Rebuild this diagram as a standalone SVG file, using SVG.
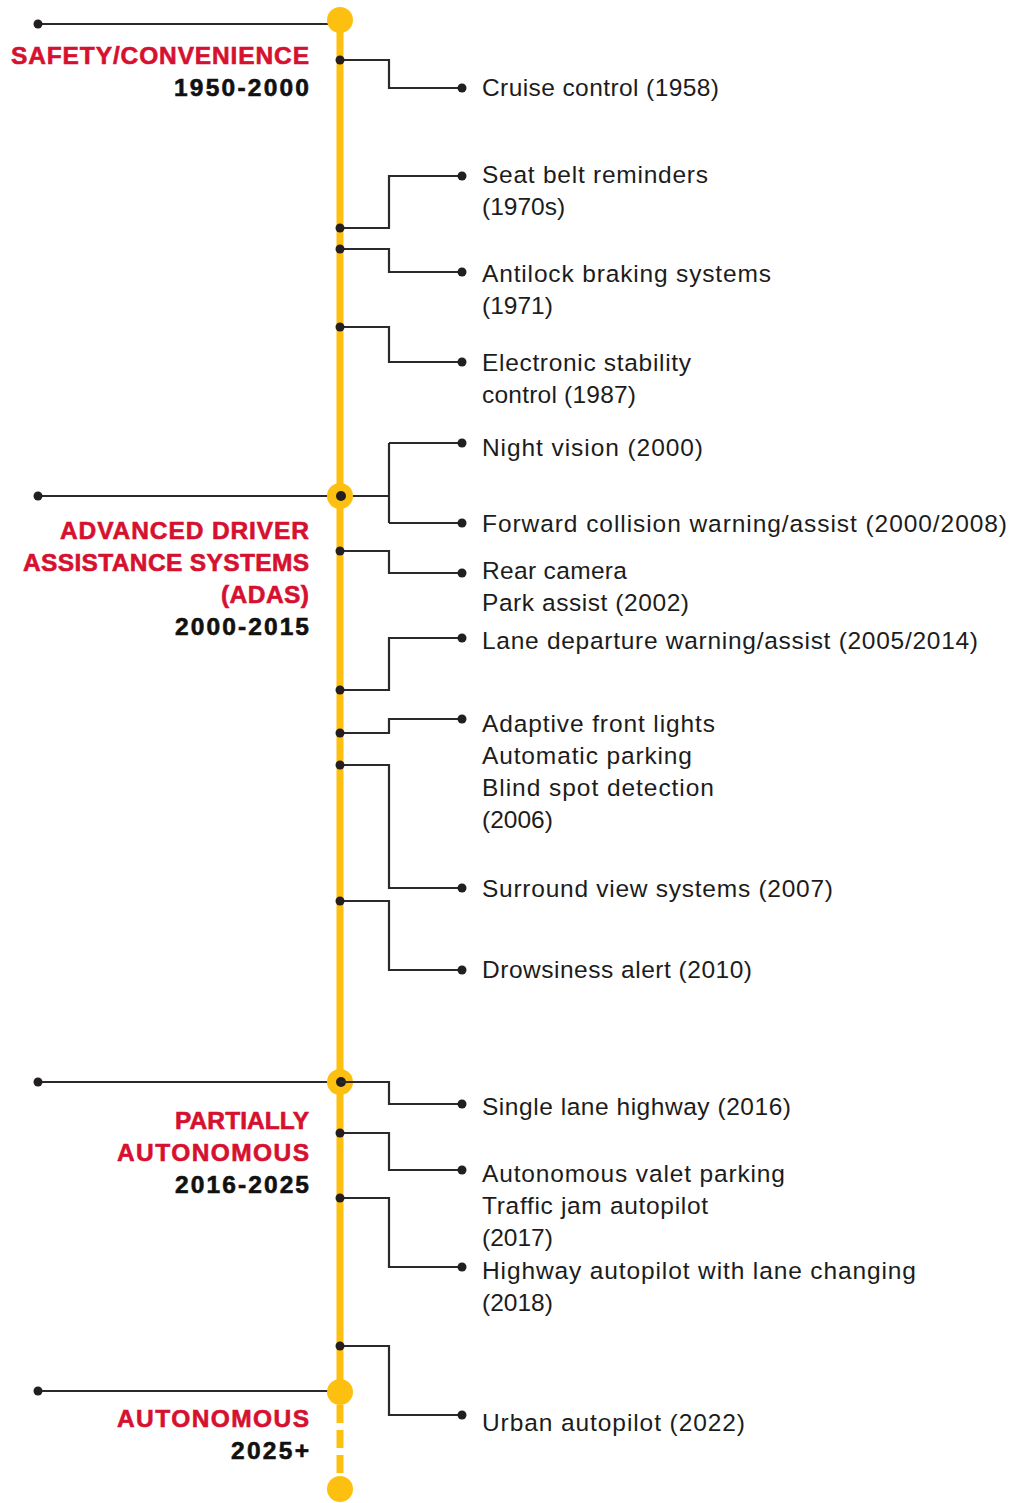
<svg xmlns="http://www.w3.org/2000/svg" width="1013" height="1503" viewBox="0 0 1013 1503">
<style>
.lbl{font-family:"Liberation Sans",Arial,sans-serif;font-size:24.5px;fill:#1c1c1c}
.hd{font-family:"Liberation Sans",Arial,sans-serif;font-size:24.5px;font-weight:bold;fill:#d6102f;stroke:#d6102f;stroke-width:0.6;text-anchor:end}
.yr{font-family:"Liberation Sans",Arial,sans-serif;font-size:24.5px;font-weight:bold;fill:#111;stroke:#111;stroke-width:0.6;text-anchor:end}
.c{fill:none;stroke:#2a2a2a;stroke-width:2.2}
.d{fill:#231f20}
.y{fill:#fdc010}
</style>
<rect width="1013" height="1503" fill="#fff"/>
<g id="axis">
<line x1="340" y1="20" x2="340" y2="1400" stroke="#fdc010" stroke-width="7"/>
<g stroke="#fdc010" stroke-width="7">
<line x1="340" y1="1405" x2="340" y2="1423"/>
<line x1="340" y1="1430" x2="340" y2="1448"/>
<line x1="340" y1="1455" x2="340" y2="1473"/>
</g>
<circle class="y" cx="340" cy="1489" r="13"/>
</g>
<g id="connectors">
<path class="c" d="M340 60H389V88H462"/>
<path class="c" d="M340 228H389V176H462"/>
<path class="c" d="M340 249H389V272H462"/>
<path class="c" d="M340 327H389V362H462"/>
<path class="c" d="M389 443V523M389 443H462M389 523H462"/>
<path class="c" d="M340 551H389V573H462"/>
<path class="c" d="M340 690H389V638H462"/>
<path class="c" d="M340 733H389V719H462"/>
<path class="c" d="M340 765H389V888H462"/>
<path class="c" d="M340 901H389V970H462"/>
<path class="c" d="M340 1082H389V1104H462"/>
<path class="c" d="M340 1133H389V1170H462"/>
<path class="c" d="M340 1198H389V1267H462"/>
<path class="c" d="M340 1346H389V1415H462"/>
<g class="d">
<circle cx="340" cy="60" r="4.5"/><circle cx="462" cy="88" r="4.5"/>
<circle cx="340" cy="228" r="4.5"/><circle cx="462" cy="176" r="4.5"/>
<circle cx="340" cy="249" r="4.5"/><circle cx="462" cy="272" r="4.5"/>
<circle cx="340" cy="327" r="4.5"/><circle cx="462" cy="362" r="4.5"/>
<circle cx="462" cy="443" r="4.5"/><circle cx="462" cy="523" r="4.5"/>
<circle cx="340" cy="551" r="4.5"/><circle cx="462" cy="573" r="4.5"/>
<circle cx="340" cy="690" r="4.5"/><circle cx="462" cy="638" r="4.5"/>
<circle cx="340" cy="733" r="4.5"/><circle cx="462" cy="719" r="4.5"/>
<circle cx="340" cy="765" r="4.5"/><circle cx="462" cy="888" r="4.5"/>
<circle cx="340" cy="901" r="4.5"/><circle cx="462" cy="970" r="4.5"/>
<circle cx="462" cy="1104" r="4.5"/>
<circle cx="340" cy="1133" r="4.5"/><circle cx="462" cy="1170" r="4.5"/>
<circle cx="340" cy="1198" r="4.5"/><circle cx="462" cy="1267" r="4.5"/>
<circle cx="340" cy="1346" r="4.5"/><circle cx="462" cy="1415" r="4.5"/>
</g>
</g>
<g id="era-safety">
<line x1="38" y1="24" x2="330" y2="24" stroke="#2a2a2a" stroke-width="2.2"/>
<circle class="d" cx="38" cy="24" r="4.5"/>
<circle class="y" cx="340" cy="20" r="13"/>
<text class="hd" x="309" y="64" textLength="298">SAFETY/CONVENIENCE</text>
<text class="yr" x="309" y="96" textLength="135">1950-2000</text>
</g>
<g id="era-adas">
<line x1="38" y1="496" x2="389" y2="496" stroke="#2a2a2a" stroke-width="2.2"/>
<circle class="d" cx="38" cy="496" r="4.5"/>
<circle class="y" cx="340" cy="496" r="13"/>
<circle class="d" cx="341" cy="496" r="5"/>
<text class="hd" x="309" y="539" textLength="249">ADVANCED DRIVER</text>
<text class="hd" x="309" y="571" textLength="286">ASSISTANCE SYSTEMS</text>
<text class="hd" x="309" y="603" textLength="88">(ADAS)</text>
<text class="yr" x="309" y="635" textLength="134">2000-2015</text>
</g>
<g id="era-partial">
<line x1="38" y1="1082" x2="340" y2="1082" stroke="#2a2a2a" stroke-width="2.2"/>
<circle class="d" cx="38" cy="1082" r="4.5"/>
<circle class="y" cx="340" cy="1082" r="13"/>
<circle class="d" cx="341" cy="1082" r="5"/>
<line x1="340" y1="1082" x2="389" y2="1082" stroke="#2a2a2a" stroke-width="2.2"/>
<text class="hd" x="309" y="1129" textLength="134">PARTIALLY</text>
<text class="hd" x="309" y="1161" textLength="192">AUTONOMOUS</text>
<text class="yr" x="309" y="1193" textLength="134">2016-2025</text>
</g>
<g id="era-autonomous">
<line x1="38" y1="1391" x2="330" y2="1391" stroke="#2a2a2a" stroke-width="2.2"/>
<circle class="d" cx="38" cy="1391" r="4.5"/>
<circle class="y" cx="340" cy="1392" r="13"/>
<text class="hd" x="309" y="1427" textLength="192">AUTONOMOUS</text>
<text class="yr" x="309" y="1459" textLength="78">2025+</text>
</g>
<g id="n-cruise"><text class="lbl" x="482" y="96" textLength="237">Cruise control (1958)</text></g>
<g id="n-seatbelt"><text class="lbl" x="482" y="183" textLength="226">Seat belt reminders</text><text class="lbl" x="482" y="215">(1970s)</text></g>
<g id="n-abs"><text class="lbl" x="482" y="282" textLength="289">Antilock braking systems</text><text class="lbl" x="482" y="314">(1971)</text></g>
<g id="n-esc"><text class="lbl" x="482" y="371" textLength="209">Electronic stability</text><text class="lbl" x="482" y="403" textLength="154">control (1987)</text></g>
<g id="n-night"><text class="lbl" x="482" y="456" textLength="221">Night vision (2000)</text></g>
<g id="n-fcw"><text class="lbl" x="482" y="532" textLength="525">Forward collision warning/assist (2000/2008)</text></g>
<g id="n-rear"><text class="lbl" x="482" y="579" textLength="145">Rear camera</text><text class="lbl" x="482" y="611" textLength="207">Park assist (2002)</text></g>
<g id="n-lane"><text class="lbl" x="482" y="649" textLength="496">Lane departure warning/assist (2005/2014)</text></g>
<g id="n-adaptive"><text class="lbl" x="482" y="732" textLength="233">Adaptive front lights</text><text class="lbl" x="482" y="764" textLength="210">Automatic parking</text><text class="lbl" x="482" y="796" textLength="232">Blind spot detection</text><text class="lbl" x="482" y="828">(2006)</text></g>
<g id="n-surround"><text class="lbl" x="482" y="897" textLength="351">Surround view systems (2007)</text></g>
<g id="n-drowsy"><text class="lbl" x="482" y="978" textLength="270">Drowsiness alert (2010)</text></g>
<g id="n-single"><text class="lbl" x="482" y="1115" textLength="309">Single lane highway (2016)</text></g>
<g id="n-valet"><text class="lbl" x="482" y="1182" textLength="303">Autonomous valet parking</text><text class="lbl" x="482" y="1214" textLength="226">Traffic jam autopilot</text><text class="lbl" x="482" y="1246">(2017)</text></g>
<g id="n-highway"><text class="lbl" x="482" y="1279" textLength="434">Highway autopilot with lane changing</text><text class="lbl" x="482" y="1311">(2018)</text></g>
<g id="n-urban"><text class="lbl" x="482" y="1431" textLength="263">Urban autopilot (2022)</text></g>
</svg>
